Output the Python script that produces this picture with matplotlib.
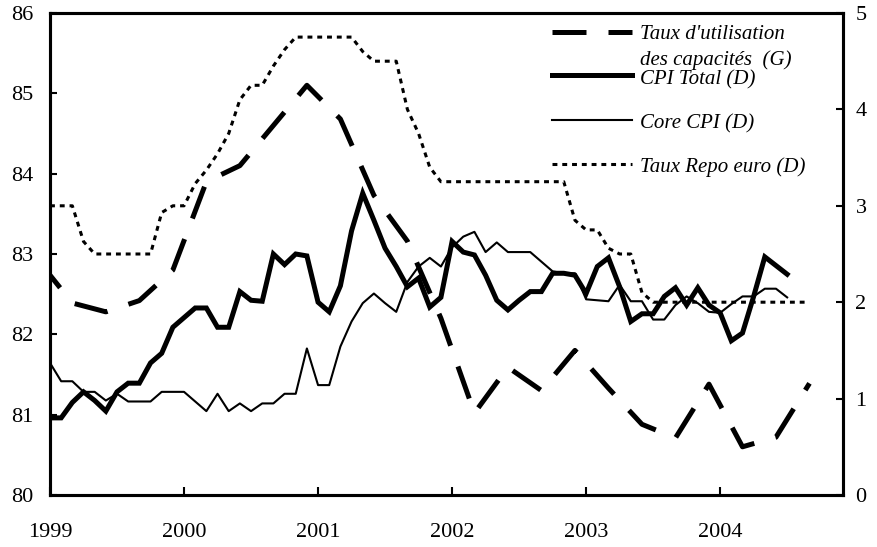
import matplotlib.pyplot as plt
import numpy as np

plt.rcParams['font.family'] = ['Liberation Serif', 'DejaVu Serif']

# x tick labels
years = ['1999', '2000', '2001', '2002', '2003', '2004']

# CPI Total (D), monthly from Jan 1999, %
cpi_total = [0.80, 0.80, 0.96, 1.07, 0.98, 0.87, 1.07, 1.16, 1.16, 1.37, 1.47, 1.74,
             1.84, 1.94, 1.94, 1.74, 1.74, 2.11, 2.02, 2.01, 2.50, 2.39, 2.50, 2.48,
             2.00, 1.90, 2.17, 2.74, 3.13, 2.85, 2.56, 2.37, 2.16, 2.25, 1.95, 2.05,
             2.63, 2.52, 2.49, 2.28, 2.02, 1.92, 2.02, 2.11, 2.11, 2.30, 2.30, 2.28,
             2.09, 2.37, 2.46, 2.16, 1.80, 1.88, 1.88, 2.06, 2.15, 1.97, 2.15, 1.97,
             1.89, 1.60, 1.68, 2.06, 2.47, 2.38, 2.29]

# Core CPI (D), monthly from Jan 1999, %
core_cpi = [1.37, 1.18, 1.18, 1.07, 1.07, 0.98, 1.05, 0.97, 0.97, 0.97, 1.07, 1.07,
            1.07, 0.97, 0.87, 1.05, 0.87, 0.95, 0.87, 0.95, 0.95, 1.05, 1.05, 1.52,
            1.14, 1.14, 1.54, 1.80, 1.99, 2.09, 1.99, 1.90, 2.21, 2.37, 2.46, 2.37,
            2.57, 2.68, 2.73, 2.52, 2.62, 2.52, 2.52, 2.52, 2.42, 2.32, 2.30, 2.30,
            2.03, 2.02, 2.01, 2.18, 2.01, 2.01, 1.82, 1.82, 1.97, 2.06, 1.99, 1.90,
            1.89, 1.98, 2.06, 2.06, 2.14, 2.14, 2.05]

# Taux Repo euro (D), monthly average from Jan 1999, %
repo = [3.00, 3.00, 3.00, 2.63, 2.50, 2.50, 2.50, 2.50, 2.50, 2.50, 2.93, 3.00,
        3.00, 3.23, 3.37, 3.54, 3.75, 4.10, 4.25, 4.25, 4.45, 4.62, 4.75, 4.75,
        4.75, 4.75, 4.75, 4.75, 4.60, 4.50, 4.50, 4.50, 4.00, 3.75, 3.40, 3.25,
        3.25, 3.25, 3.25, 3.25, 3.25, 3.25, 3.25, 3.25, 3.25, 3.25, 3.25, 2.85,
        2.75, 2.75, 2.56, 2.50, 2.50, 2.10, 2.00, 2.00, 2.00, 2.00, 2.00, 2.00,
        2.00, 2.00, 2.00, 2.00, 2.00, 2.00, 2.00, 2.00, 2.00]

# Taux d'utilisation des capacités (G), quarterly, end of quarter from Dec 1998
capacity = [82.91, 82.39, 82.28, 82.42, 82.80, 83.90, 84.10, 84.60, 85.10,
            84.68, 83.73, 83.16, 82.20, 81.02, 81.59, 81.30, 81.80, 81.33,
            80.88, 80.71, 81.38, 80.60, 80.72, 81.39]

labels = ["Taux d'utilisation", "des capacités  (G)", "CPI Total (D)",
          "Core CPI (D)", "Taux Repo euro (D)"]

t_cpi = 1999 + np.arange(len(cpi_total)) / 12
t_core = 1999 + np.arange(len(core_cpi)) / 12
t_repo = 1999 + np.arange(len(repo)) / 12
t_cap = 1999 + (np.arange(len(capacity)) * 3 - 1) / 12

fig = plt.figure(figsize=(8.78, 5.47), dpi=100)
ax = fig.add_axes([50 / 878, 52 / 547, 793 / 878, 482 / 547])
ax2 = ax.twinx()

cap_style = dict(color='black', lw=3.6, dashes=(6.8, 4.4))
tot_style = dict(color='black', lw=3.6, solid_joinstyle='miter')
core_style = dict(color='black', lw=1.5)
repo_style = dict(color='black', lw=2.2, dashes=(1.6, 1.6))

ax.plot(t_cap, capacity, **cap_style)
ax2.plot(t_repo, repo, **repo_style)
ax2.plot(t_core, core_cpi, **core_style)
ax2.plot(t_cpi, cpi_total, **tot_style)

ax.set_xlim(1999, 1999 + 71 / 12)
ax.set_ylim(80, 86)
ax2.set_ylim(0, 5)
ax.set_xticks([1999 + i for i in range(len(years))])
ax.set_xticklabels(years)
ax.set_yticks(range(80, 87))
ax2.set_yticks(range(0, 6))

for a in (ax, ax2):
    for s in a.spines.values():
        s.set_linewidth(2.2)
ax.tick_params(axis='y', direction='in', length=5, width=1.5, labelsize=16, pad=12)
ax.tick_params(axis='x', direction='in', length=6, width=1.5, labelsize=16, pad=20)
ax2.tick_params(axis='y', direction='in', length=5, width=1.5, labelsize=16, pad=9)

# legend drawn by hand in axes coordinates
hx = [0.633, 0.734]
tx = 0.744
ax2.plot(hx, [0.9606, 0.9606], transform=ax2.transAxes, clip_on=False, **cap_style)
ax2.plot(hx, [0.8714, 0.8714], transform=ax2.transAxes, **tot_style)
ax2.plot(hx, [0.7780, 0.7780], transform=ax2.transAxes, **core_style)
ax2.plot(hx, [0.6867, 0.6867], transform=ax2.transAxes, **repo_style)
for lab, yb in zip(labels, [0.9454, 0.8930, 0.8520, 0.7614, 0.6701]):
    ax2.text(tx, yb, lab, transform=ax2.transAxes, fontsize=15, style='italic',
             va='baseline', ha='left')

fig.savefig('out.png', dpi=100)
